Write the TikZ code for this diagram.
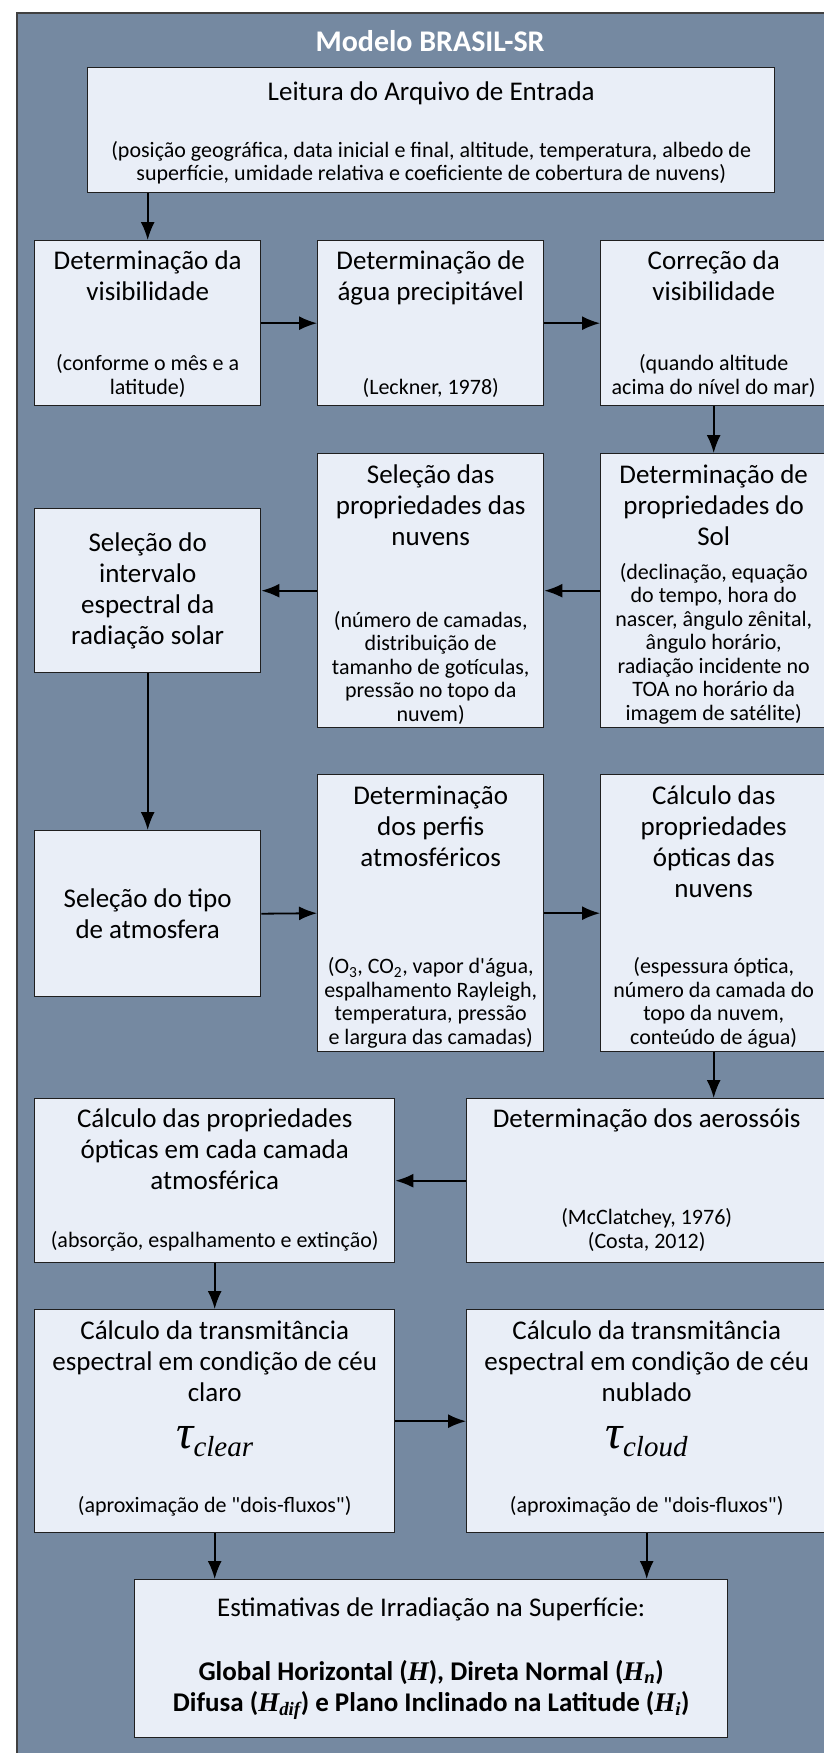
\documentclass[tikz,border=0pt]{standalone}
\usepackage{fontspec}
\setmainfont{Carlito}[Ligatures=TeXOff]
\newfontfamily\mathserif{Liberation Serif}
\usetikzlibrary{arrows.meta}

\definecolor{bgslate}{RGB}{117,137,161}
\definecolor{boxfill}{RGB}{233,238,247}

\tikzset{
  box/.style={draw=black!88, line width=1.4pt, fill=boxfill, inner sep=0pt, anchor=north west},
  ttl/.style={font=\fontsize{27}{31}\selectfont, align=center, inner sep=0pt},
  sub/.style={font=\fontsize{22}{23.5}\selectfont, align=center, inner sep=0pt},
  arr/.style={-{Latex[length=18pt,width=14pt]}, line width=1.8pt},
}
\newcommand{\taufont}{\mathserif\itshape\fontsize{48}{48}\selectfont}
\newcommand{\tausub}[1]{\raisebox{-8pt}{\fontsize{29}{29}\selectfont #1}}

\begin{document}
\begin{tikzpicture}[x=1pt,y=-1pt]
\useasboundingbox (0,0) rectangle (824,1753);
\clip (0,0) rectangle (824,1753);
\draw[draw=black!75, line width=1.2pt, fill=bgslate] (17,13) rectangle (844,1780);
\node[font=\bfseries\fontsize{30}{30}\selectfont, text=white] (title) at (430,41) {Modelo BRASIL-SR};

% entrada
\node[box, minimum width=687pt, minimum height=125pt] (leit) at (87,67) {};
\node[ttl, anchor=north] (leitT) at ([yshift=-15pt]leit.north) {Leitura do Arquivo de Entrada};
\node[sub, anchor=south] (leitS) at ([yshift=9pt]leit.south) {(posição geográfica, data inicial e final, altitude, temperatura, albedo de\\superfície, umidade relativa e coeficiente de cobertura de nuvens)};

% linha 1
\node[box, minimum width=226pt, minimum height=165pt] (vis) at (34,240) {};
\node[ttl, anchor=north] (visT) at ([yshift=-11pt]vis.north) {Determinação da\\visibilidade};
\node[sub, anchor=south] (visS) at ([yshift=9pt]vis.south) {(conforme o mês e a\\latitude)};

\node[box, minimum width=226pt, minimum height=165pt] (agua) at (317,240) {};
\node[ttl, anchor=north] (aguaT) at ([yshift=-11pt]agua.north) {Determinação de\\água precipitável};
\node[sub, anchor=south] (aguaS) at ([yshift=9pt]agua.south) {(Leckner, 1978)};

\node[box, minimum width=226pt, minimum height=165pt] (corr) at (600,240) {};
\node[ttl, anchor=north] (corrT) at ([yshift=-11pt]corr.north) {Correção da\\visibilidade};
\node[sub, anchor=south] (corrS) at ([yshift=9pt]corr.south) {(quando altitude\\acima do nível do mar)};

% linha 2
\node[box, minimum width=226pt, minimum height=164pt] (interv) at (34,508) {};
\node[ttl] (intervT) at (interv.center) {Seleção do\\intervalo\\espectral da\\radiação solar};

\node[box, minimum width=226pt, minimum height=274pt] (nuv) at (317,453) {};
\node[ttl, anchor=north] (nuvT) at ([yshift=-12pt]nuv.north) {Seleção das\\propriedades das\\nuvens};
\node[sub, anchor=south] (nuvS) at ([yshift=4pt]nuv.south) {(número de camadas,\\distribuição de\\tamanho de gotículas,\\pressão no topo da\\nuvem)};

\node[box, minimum width=226pt, minimum height=274pt] (sol) at (600,453) {};
\node[ttl, anchor=north] (solT) at ([yshift=-12pt]sol.north) {Determinação de\\propriedades do\\Sol};
\node[sub, anchor=south] (solS) at ([yshift=4pt]sol.south) {(declinação, equação\\do tempo, hora do\\nascer, ângulo zênital,\\ângulo horário,\\radiação incidente no\\TOA no horário da\\imagem de satélite)};

% linha 3
\node[box, minimum width=226pt, minimum height=166pt] (tipo) at (34,830) {};
\node[ttl] (tipoT) at (tipo.center) {Seleção do tipo\\de atmosfera};

\node[box, minimum width=226pt, minimum height=277pt] (perf) at (317,774) {};
\node[ttl, anchor=north] (perfT) at ([yshift=-12pt]perf.north) {Determinação\\dos perfis\\atmosféricos};
\node[sub, anchor=south] (perfS) at ([yshift=4pt]perf.south) {(O\textsubscript{3}, CO\textsubscript{2}, vapor d'água,\\espalhamento Rayleigh,\\temperatura, pressão\\e largura das camadas)};

\node[box, minimum width=226pt, minimum height=277pt] (optn) at (600,774) {};
\node[ttl, anchor=north] (optnT) at ([yshift=-12pt]optn.north) {Cálculo das\\propriedades\\ópticas das\\nuvens};
\node[sub, anchor=south] (optnS) at ([yshift=4pt]optn.south) {(espessura óptica,\\número da camada do\\topo da nuvem,\\conteúdo de água)};

% linha 4
\node[box, minimum width=360pt, minimum height=164pt] (cam) at (34,1098) {};
\node[ttl, anchor=north] (camT) at ([yshift=-11pt]cam.north) {Cálculo das propriedades\\ópticas em cada camada\\atmosférica};
\node[sub, anchor=south] (camS) at ([yshift=12pt]cam.south) {(absorção, espalhamento e extinção)};

\node[box, minimum width=360pt, minimum height=164pt] (aer) at (466,1098) {};
\node[ttl, anchor=north] (aerT) at ([yshift=-11pt]aer.north) {Determinação dos aerossóis};
\node[sub, anchor=south] (aerS) at ([yshift=12pt]aer.south) {(McClatchey, 1976)\\(Costa, 2012)};

% linha 5
\node[box, minimum width=360pt, minimum height=223pt] (clear) at (34,1309) {};
\node[ttl, anchor=north] (clearT) at ([yshift=-12pt]clear.north) {Cálculo da transmitância\\espectral em condição de céu\\claro};
\node (clearTau) at ([yshift=-20pt]clear.center) {{\taufont τ\tausub{clear}}};
\node[sub, anchor=south] (clearS) at ([yshift=17pt]clear.south) {(aproximação de "dois-fluxos")};

\node[box, minimum width=360pt, minimum height=223pt] (cloud) at (466,1309) {};
\node[ttl, anchor=north] (cloudT) at ([yshift=-12pt]cloud.north) {Cálculo da transmitância\\espectral em condição de céu\\nublado};
\node (cloudTau) at ([yshift=-20pt]cloud.center) {{\taufont τ\tausub{cloud}}};
\node[sub, anchor=south] (cloudS) at ([yshift=17pt]cloud.south) {(aproximação de "dois-fluxos")};

% saida
\node[box, minimum width=593pt, minimum height=158pt] (est) at (134,1579) {};
\node[ttl] (estT) at (est.center) {Estimativas de Irradiação na Superfície:\\[33pt]
  \bfseries Global Horizontal ({\mathserif\itshape H}), Direta Normal ({\mathserif\itshape H\textsubscript{n}})\\
  \bfseries Difusa ({\mathserif\itshape H\textsubscript{dif}}) e Plano Inclinado na Latitude ({\mathserif\itshape H\textsubscript{i}})};

% setas
\draw[arr] (vis.north |- leit.south) -- (vis.north);
\draw[arr] (vis) -- (agua);
\draw[arr] (agua) -- (corr);
\draw[arr] (corr) -- (sol);
\draw[arr] (sol) -- (nuv);
\draw[arr] (nuv.west) -- (interv.east);
\draw[arr] (interv) -- (tipo);
\draw[arr] (tipo.east) -- (perf.west);
\draw[arr] (perf) -- (optn);
\draw[arr] (optn.south) -- (optn.south |- aer.north);
\draw[arr] (aer) -- (cam);
\draw[arr] (cam) -- (clear);
\draw[arr] (clear) -- (cloud);
\draw[arr] (clear.south) -- (clear.south |- est.north);
\draw[arr] (cloud.south) -- (cloud.south |- est.north);
\end{tikzpicture}
\end{document}
